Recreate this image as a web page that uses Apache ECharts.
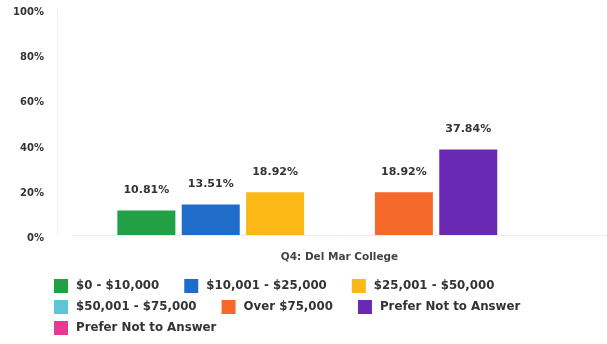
<!DOCTYPE html>
<html>
<head>
<meta charset="utf-8">
<script src="https://cdn.jsdelivr.net/npm/echarts@6/dist/echarts.min.js"></script>
<style>
  html, body { margin: 0; padding: 0; background: #fff; }
  #chart { width: 607px; height: 344px; }
</style>
</head>
<body>
<div id="chart"></div>
<script>
// Household income responses, Q4: Del Mar College
var categories = ['Q4: Del Mar College'];
var seriesNames = [
  '$0 - $10,000',
  '$10,001 - $25,000',
  '$25,001 - $50,000',
  '$50,001 - $75,000',
  'Over $75,000',
  'Prefer Not to Answer',
  'Prefer Not to Answer\u200b'
];
var seriesValues = [10.81, 13.51, 18.92, 0, 18.92, 37.84, 0];
var seriesColors = ['#22a045', '#1f6cc9', '#fbb817', '#5ec4d8', '#f5692a', '#6a29b3', '#e43a92'];
var yTicks = [0, 20, 40, 60, 80, 100];

var FONT = '"DejaVu Sans", sans-serif';
var chart = echarts.init(document.getElementById('chart'), null, { renderer: 'canvas' });

var series = seriesNames.map(function (name, i) {
  return {
    name: name,
    type: 'bar',
    data: [seriesValues[i]],
    barWidth: 58,
    barGap: '11%',
    itemStyle: { color: seriesColors[i] },
    label: {
      show: true,
      position: 'top',
      distance: 15,
      color: '#333',
      fontFamily: FONT,
      fontWeight: 'bold',
      fontSize: 11,
      formatter: function (p) { return p.value ? p.value.toFixed(2) + '%' : ''; }
    }
  };
});

function legendRow(names, top) {
  return {
    data: names,
    left: 49,
    top: top,
    orient: 'horizontal',
    icon: 'rect',
    itemWidth: 14,
    itemHeight: 14,
    itemGap: 25,
    textStyle: {
      color: '#333', fontFamily: FONT, fontWeight: 'bold', fontSize: 11.8,
      padding: [0, 0, 0, 3]
    },
    selectedMode: false
  };
}

chart.setOption({
  animation: false,
  backgroundColor: '#fff',
  grid: { left: 72, right: 0, top: 9, bottom: 109, containLabel: false },
  xAxis: {
    type: 'category',
    data: categories,
    axisLine: { show: true, lineStyle: { color: '#ececec' } },
    axisTick: { show: false },
    axisLabel: { margin: 17, color: '#444', fontFamily: FONT, fontWeight: 'bold', fontSize: 10.5 }
  },
  yAxis: {
    type: 'value',
    min: yTicks[0],
    max: yTicks[yTicks.length - 1],
    interval: 20,
    offset: 15,
    axisLine: { show: true, lineStyle: { color: '#f0f0f0' } },
    axisTick: { show: false },
    splitLine: { show: false },
    axisLabel: {
      margin: 13,
      color: '#333',
      fontFamily: FONT,
      fontWeight: 'bold',
      fontSize: 10,
      verticalAlign: 'top',
      lineHeight: 7,
      formatter: '{value}%'
    }
  },
  legend: [
    legendRow(seriesNames.slice(0, 3), 274),
    legendRow(seriesNames.slice(3, 6), 295),
    legendRow(seriesNames.slice(6, 7), 316)
  ],
  series: series
});
</script>
</body>
</html>
